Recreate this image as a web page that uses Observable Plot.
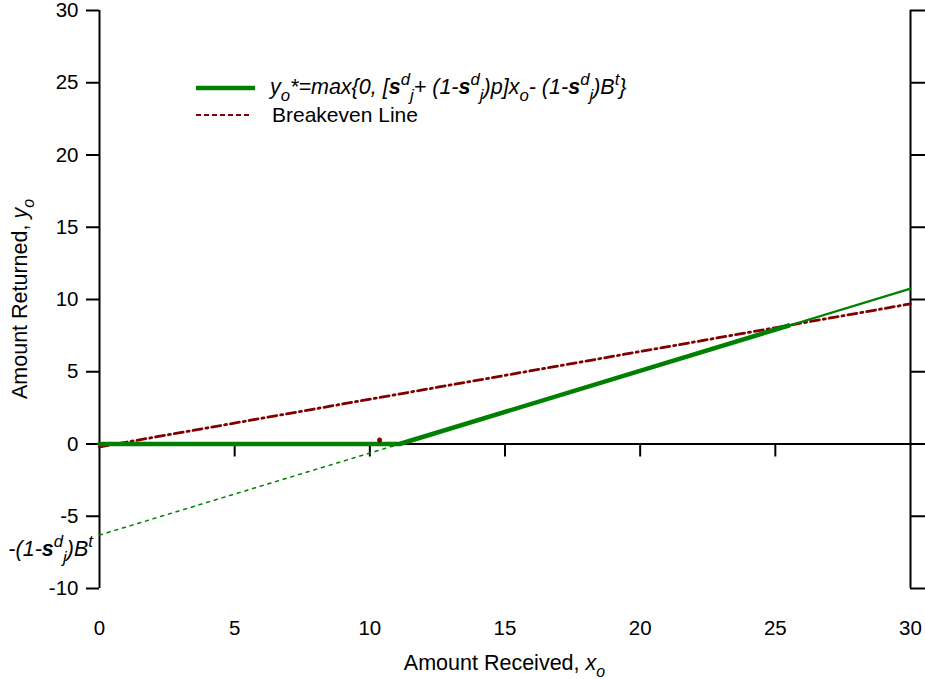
<!DOCTYPE html>
<html>
<head>
<meta charset="utf-8">
<script src="https://cdn.jsdelivr.net/npm/d3@7"></script>
<script src="https://cdn.jsdelivr.net/npm/@observablehq/plot@0.6"></script>
<style>
  html, body { margin: 0; padding: 0; background: #fff; }
  #chart svg { display: block; }
</style>
</head>
<body>
<div id="chart"></div>
<script>
// ---- data ----
const xTicks = [0, 5, 10, 15, 20, 25, 30];
const xInnerTicks = [5, 10, 15, 20, 25];
const yTicks = [-10, -5, 0, 5, 10, 15, 20, 25, 30];

// optimal return y_o* (thick part)
const optimalX = [0, 11.1, 25.5];
const optimalY = [0, 0, 8.2];
// continuation of the linear part (thin)
const linearX = [11.1, 30];
const linearY = [0, 10.75];
// extension below zero to intercept -(1-s)B^t (dotted)
const extensionX = [0, 11.1];
const extensionY = [-6.3, 0];
// breakeven line
const breakevenX = [0, 30];
const breakevenY = [-0.2, 9.7];
// small stray marker
const markX = [10.36];
const markY = [0.28];
const interceptY = -6.3;

const pts = (xs, ys) => xs.map((x, i) => ({x, y: ys[i]}));

const FONT = "'Liberation Sans', Arial, Helvetica, sans-serif";
const GREEN = "#008000";
const RED = "#800000";

const plot = Plot.plot({
  width: 925,
  height: 679,
  marginLeft: 99,
  marginRight: 15,
  marginTop: 10,
  marginBottom: 91,
  x: {domain: [0, 30], axis: null},
  y: {domain: [-10, 30], axis: null},
  style: {fontFamily: FONT, background: "white", color: "black"},
  marks: [
    // axis frame lines
    Plot.ruleX([0, 30], {stroke: "black", strokeWidth: 2}),
    Plot.ruleY([0], {x1: () => 0, x2: () => 30, stroke: "black", strokeWidth: 2}),
    // left ticks (outward)
    Plot.ruleY(yTicks, {y: d => d, x1: () => 0, x2: () => 0, insetLeft: -13, stroke: "black", strokeWidth: 2}),
    // right ticks (outward)
    Plot.ruleY(yTicks, {y: d => d, x1: () => 30, x2: () => 30, insetRight: -15, stroke: "black", strokeWidth: 2}),
    // ticks hanging below the zero line
    Plot.ruleX(xInnerTicks, {x: d => d, y1: () => 0, y2: () => 0, insetBottom: -13, stroke: "black", strokeWidth: 2}),
    // tick labels
    Plot.text(yTicks, {x: () => 0, y: d => d, text: d => String(d), textAnchor: "end", dx: -21, fontSize: 20.5, fill: "black"}),
    Plot.text(xTicks, {x: d => d, y: () => -10, text: d => String(d), dy: 40, fontSize: 20.5, fill: "black"}),
    // data lines
    Plot.line(pts(breakevenX, breakevenY), {x: "x", y: "y", stroke: RED, strokeWidth: 2.8, strokeDasharray: "9,4,2,4"}),
    Plot.line(pts(extensionX, extensionY), {x: "x", y: "y", stroke: GREEN, strokeWidth: 1.5, strokeDasharray: "3,5"}),
    Plot.line(pts(linearX, linearY), {x: "x", y: "y", stroke: GREEN, strokeWidth: 2.2}),
    Plot.line(pts(optimalX, optimalY), {x: "x", y: "y", stroke: GREEN, strokeWidth: 4.5}),
    Plot.dot(pts(markX, markY), {x: "x", y: "y", r: 2.5, fill: RED, stroke: "none"})
  ]
});

document.getElementById("chart").appendChild(plot);

const svg = d3.select(plot);
const sy = plot.scale("y");

function rich(g, x, y, segs, {size = 20, italic = false, anchor = "start", transform = null, scriptScale = 0.74} = {}) {
  const t = g.append("text")
    .attr("x", x).attr("y", y)
    .attr("font-size", size)
    .attr("font-family", FONT)
    .attr("fill", "black")
    .attr("text-anchor", anchor)
    .attr("font-style", italic ? "italic" : "normal")
    .style("white-space", "pre");
  if (transform) t.attr("transform", transform);
  let cur = 0;
  for (const s of segs) {
    const [txt, kind, bold, it] = s;
    const off = kind === "sub" ? size * 0.33 : kind === "sup" ? -size * 0.42 : 0;
    const sp = t.append("tspan").text(txt).attr("dy", off - cur);
    if (kind) sp.attr("font-size", size * scriptScale);
    if (bold) sp.attr("font-weight", "bold");
    if (it) sp.attr("font-style", "italic");
    cur = off;
  }
  return t;
}

const g = svg.append("g");

// legend
g.append("line").attr("x1", 196).attr("x2", 255).attr("y1", 88).attr("y2", 88)
  .attr("stroke", GREEN).attr("stroke-width", 4.5);
g.append("line").attr("x1", 196).attr("x2", 252).attr("y1", 115).attr("y2", 115)
  .attr("stroke", RED).attr("stroke-width", 1.8).attr("stroke-dasharray", "5,3");

rich(g, 270, 94, [
  ["y"], ["o", "sub"], ["*=max{0, ["], ["s", null, true], ["d", "sup"], ["j", "sub"],
  ["+ (1-"], ["s", null, true], ["d", "sup"], ["j", "sub"], [")p]x"], ["o", "sub"],
  ["- (1-"], ["s", null, true], ["d", "sup"], ["j", "sub"], [")B"], ["t", "sup"], ["}"]
], {italic: true, size: 21.5, scriptScale: 0.78});

rich(g, 272, 122, [["Breakeven Line"]], {size: 21});

// intercept label
rich(g, 93, sy.apply(interceptY) + 21, [
  ["-(1-"], ["s", null, true], ["d", "sup"], ["j", "sub"], [")B"], ["t", "sup"]
], {italic: true, size: 21.5, anchor: "end", scriptScale: 0.78});

// axis titles
rich(g, 504.5, 670, [["Amount Received, "], ["x", null, false, true], ["o", "sub", false, true]], {size: 21.5, anchor: "middle"});
rich(g, 0, 0, [["Amount Returned, "], ["y", null, false, true], ["o", "sub", false, true]],
  {size: 21.5, anchor: "middle", transform: "translate(27,299) rotate(-90)"});
</script>
</body>
</html>
